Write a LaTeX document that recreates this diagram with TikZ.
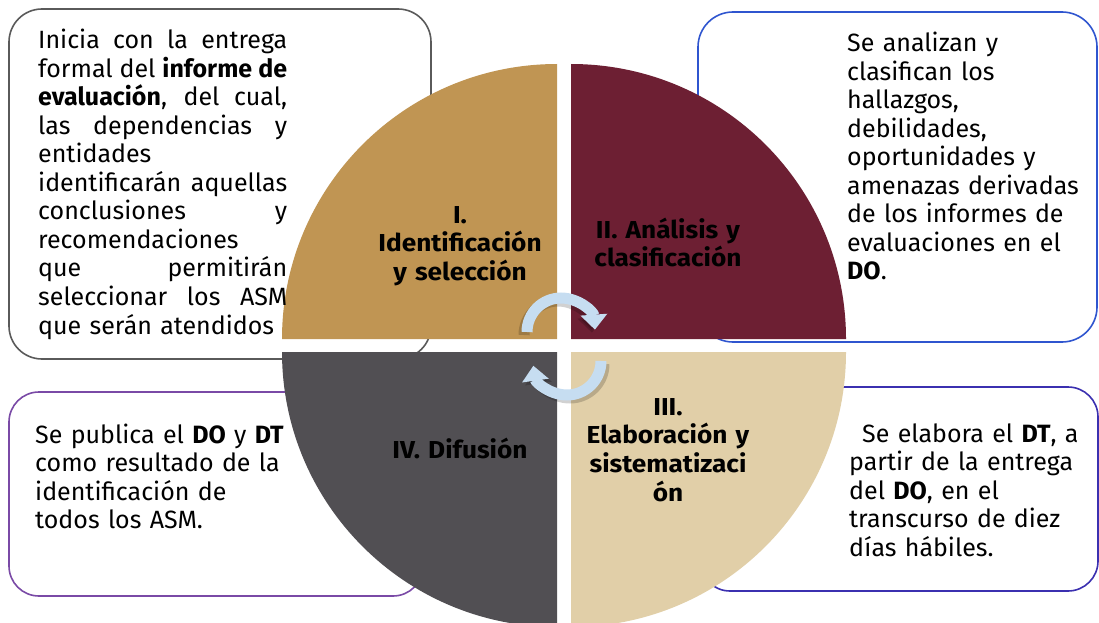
\documentclass[tikz,border=0pt]{standalone}
\usepackage{fontspec}
\setmainfont{Fira Sans}
\newfontfamily\labelfont{Fira Sans}[FakeStretch=1.07]
\usetikzlibrary{arrows.meta}
\definecolor{qtan}{HTML}{C09553}
\definecolor{qmaroon}{HTML}{6D1F33}
\definecolor{qgrey}{HTML}{514F53}
\definecolor{qbeige}{HTML}{E1CFA8}
\definecolor{bgray}{HTML}{5A5A5A}
\definecolor{bblue}{HTML}{2F55CF}
\definecolor{bpurple}{HTML}{7A4AA6}
\definecolor{bindigo}{HTML}{3B30B0}
\definecolor{arrowblue}{HTML}{C6DDF1}
\newcommand\jline[1]{\makebox[249pt][s]{\spaceskip=0pt\xspaceskip=0pt #1}}
\tikzset{
  infobox/.style={rectangle, line width=1.6pt, fill=white, inner sep=0pt},
  bodytext/.style={anchor=base west, inner sep=0pt, align=left, text width=#1,
    font=\fontsize{25}{28.5}\selectfont},
  quadlabel/.style={anchor=base, inner sep=0pt, align=center, text width=#1,
    font=\labelfont\fontsize{24.5}{28.7}\selectfont\bfseries},
  cyclearrow/.style={line width=11pt, draw=arrowblue,
    -{Triangle[width=26pt,length=15pt]}},
  cycleshadow/.style={line width=11pt, draw=black, opacity=0.18,
    -{Triangle[width=26pt,length=15pt]}}
}
\begin{document}
\begin{tikzpicture}[x=1pt,y=1pt]
\useasboundingbox (0,0) rectangle (1099,-623);
\clip (0,0) rectangle (1099,-623);
% boxes
\node[infobox, draw=bgray, rounded corners=33pt, minimum width=422pt, minimum height=350pt] (box1) at (220,-184) {};
\node[infobox, draw=bblue, rounded corners=35pt, minimum width=399pt, minimum height=330pt] (box2) at (897.5,-177) {};
\node[infobox, draw=bpurple, rounded corners=30pt, minimum width=414pt, minimum height=204pt] (box4) at (216,-494) {};
\node[infobox, draw=bindigo, rounded corners=30pt, minimum width=398pt, minimum height=204pt] (box3) at (899,-489) {};
% quadrants
\fill[qtan] (557,-339) -- (282,-339) arc[start angle=180, end angle=90, radius=275] -- cycle;
\fill[qmaroon] (571,-339) -- (571,-64) arc[start angle=90, end angle=0, radius=275] -- cycle;
\fill[qgrey] (557,-352) -- (557,-627) arc[start angle=270, end angle=180, radius=275] -- cycle;
\fill[qbeige] (571,-352) -- (846,-352) arc[start angle=0, end angle=-90, radius=275] -- cycle;
% quadrant labels
\node[quadlabel=220pt] (q1) at (460,-223) {I.\\Identificación\\y selección};
\node[quadlabel=220pt] (q2) at (668,-238) {II. Análisis y\\clasificación};
\node[quadlabel=220pt] (q4) at (460,-458) {IV. Difusión};
\node[quadlabel=220pt] (q3) at (668,-415) {III.\\Elaboración y\\sistematizaci\\ón};
% cycle arrows
\draw[cycleshadow] (524,-335) arc[start angle=180, end angle=4, radius=34];
\draw[cycleshadow] (604,-364) arc[start angle=0, end angle=-172, radius=34];
\draw[cyclearrow] (527,-332) arc[start angle=180, end angle=4, radius=34];
\draw[cyclearrow] (601,-361) arc[start angle=0, end angle=-172, radius=34];
% texts
\node[bodytext=260pt] (t1) at (38,-49) {%
\jline{Inicia con la entrega}\\
\jline{formal del \textbf{informe de}}\\
\jline{\textbf{evaluación}, del cual,}\\
\jline{las dependencias y}\\
entidades\\
\jline{identificarán aquellas}\\
\jline{conclusiones y}\\
recomendaciones\\
\jline{que permitirán}\\
\jline{seleccionar los ASM}\\
que serán atendidos};
\node[bodytext=250pt] (t2) at (847,-52) {Se analizan y\\
clasifican los\\
hallazgos,\\
debilidades,\\
oportunidades y\\
amenazas derivadas\\
de los informes de\\
evaluaciones en el\\
\textbf{DO}.};
\node[bodytext=260pt] (t4) at (35,-443) {Se publica el \textbf{DO} y \textbf{DT}\\
como resultado de la\\
identificación de\\
todos los ASM.};
\node[bodytext=245pt] (t3) at (849,-442) {\hspace*{13pt}Se elabora el \textbf{DT}, a\\
partir de la entrega\\
del \textbf{DO}, en el\\
transcurso de diez\\
días hábiles.};
\end{tikzpicture}
\end{document}
